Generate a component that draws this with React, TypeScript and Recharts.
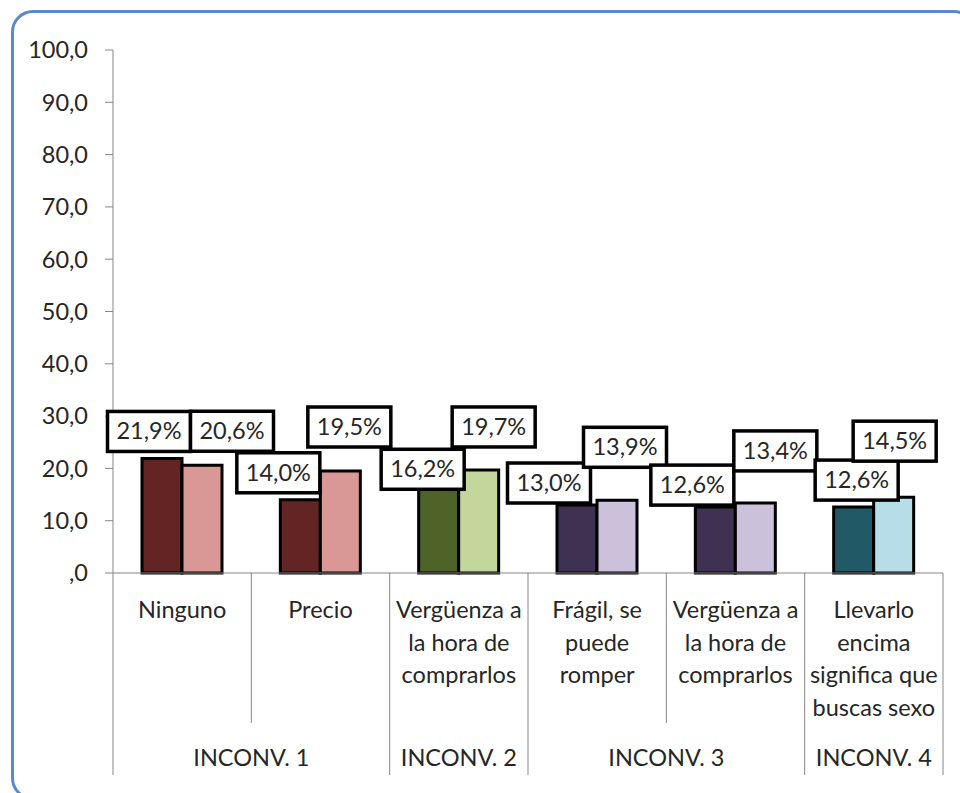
import React from "react";
import { BarChart, Bar, XAxis, YAxis, LabelList, Cell } from "recharts";

// category labels (first level) and group labels (second level)
const categories = [
  "Ninguno",
  "Precio",
  "Vergüenza a\nla hora de\ncomprarlos",
  "Frágil, se\npuede\nromper",
  "Vergüenza a\nla hora de\ncomprarlos",
  "Llevarlo\nencima\nsignifica que\nbuscas sexo",
];
const groups = ["INCONV. 1", "INCONV. 1", "INCONV. 2", "INCONV. 3", "INCONV. 3", "INCONV. 4"];

const serieA = [21.9, 14.0, 16.2, 13.0, 12.6, 12.6];
const serieB = [20.6, 19.5, 19.7, 13.9, 13.4, 14.5];

const yTicks = [0, 10, 20, 30, 40, 50, 60, 70, 80, 90, 100];

// colours per group
const darkColors = ["#632523", "#632523", "#4F6228", "#3F3151", "#3F3151", "#215967"];
const lightColors = ["#D99795", "#D99795", "#C3D69B", "#CCC1DA", "#CCC1DA", "#B7DEE8"];

// hand-moved label boxes (offset of box centre from bar top centre)
const offsetsA = [[-13, -27], [-22, -27], [-16, -19], [-28, -22], [-23, -22], [3, -27]];
const offsetsB = [[30, -34], [9, -44], [15, -43], [8, -53], [20, -52], [1, -56]];

const data = categories.map((c, i) => ({ name: c, a: serieA[i], b: serieB[i] }));

const FONT = "Lato, 'Open Sans', sans-serif";
const FS = 23.5;
const INK = "#262626";
const AXIS = "#868686";
const BAND = 830 / categories.length;
const BAR = 40;

const fmt = (v: number) => v.toFixed(1).replace(".", ",") + "%";

const Box = ({ cx, cy, text }: { cx: number; cy: number; text: string }) => (
  <g>
    <rect x={cx - 41.5} y={cy - 20} width={83} height={40} fill="#fff" stroke="#000" strokeWidth={3.5} />
    <text x={cx} y={cy + 8} textAnchor="middle" fontFamily={FONT} fontSize={FS} fill={INK}>
      {text}
    </text>
  </g>
);

// both labels drawn from the second series so they sit above both bars
const PairLabel = (props: any) => {
  const { x, y, width, height, value, index } = props;
  const base = y + height; // zero line
  const perUnit = height / value;
  const a = serieA[index];
  const [adx, ady] = offsetsA[index];
  const [bdx, bdy] = offsetsB[index];
  const aTop = base - a * perUnit;
  return (
    <g>
      <Box cx={x - BAR / 2 + adx} cy={aTop + ady} text={fmt(a)} />
      <Box cx={x + width / 2 + bdx} cy={y + bdy} text={fmt(value)} />
    </g>
  );
};

const CategoryTick = (props: any) => {
  const { x, y, payload } = props;
  const i = payload.index;
  const left = x - BAND / 2;
  const right = x + BAND / 2;
  const lines = categories[i].split("\n");
  const firstOfGroup = i === 0 || groups[i] !== groups[i - 1];
  let span = 1;
  while (i + span < groups.length && groups[i + span] === groups[i]) span++;
  const isLast = i === categories.length - 1;
  return (
    <g>
      <line x1={left} y1={y} x2={left} y2={firstOfGroup ? y + 202 : y + 150} stroke={AXIS} strokeWidth={1} />
      {isLast && <line x1={right} y1={y} x2={right} y2={y + 202} stroke={AXIS} strokeWidth={1} />}
      {lines.map((l, k) => (
        <text key={k} x={x} y={y + 45 + k * 32.5} textAnchor="middle" fontFamily={FONT} fontSize={FS} fill={INK}>
          {l}
        </text>
      ))}
      {firstOfGroup && (
        <text x={left + (span * BAND) / 2} y={y + 193} textAnchor="middle" fontFamily={FONT} fontSize={FS} fill={INK}>
          {groups[i]}
        </text>
      )}
    </g>
  );
};

export default function App() {
  return (
    <div style={{ position: "absolute", left: 0, top: 0, width: 960, height: 793, background: "#fff", overflow: "hidden" }}>
      <div
        style={{
          position: "absolute",
          left: 11,
          top: 10,
          width: 965,
          height: 790,
          border: "3px solid #5B8AC6",
          borderRadius: 22,
          boxSizing: "border-box",
        }}
      />
      <div style={{ position: "absolute", left: 0, top: 0 }}>
        <BarChart
          width={960}
          height={793}
          data={data}
          margin={{ top: 50, right: 17, bottom: 20, left: 53 }}
          barGap={0}
          barSize={BAR}
        >
          <XAxis
            dataKey="name"
            interval={0}
            height={200}
            tickSize={0}
            tickMargin={0}
            tickLine={false}
            axisLine={{ stroke: AXIS }}
            tick={<CategoryTick />}
          />
          <YAxis
            width={60}
            domain={[0, 100]}
            ticks={yTicks}
            interval={0}
            tickSize={8}
            tickMargin={17}
            axisLine={{ stroke: AXIS }}
            tickLine={{ stroke: AXIS }}
            tick={{ fontFamily: FONT, fontSize: FS, fill: INK }}
            tickFormatter={(v: number) => (v === 0 ? ",0" : v.toFixed(1).replace(".", ","))}
          />
          <Bar dataKey="a" stroke="#000" strokeWidth={3} isAnimationActive={false}>
            {data.map((_, i) => (
              <Cell key={i} fill={darkColors[i]} />
            ))}
          </Bar>
          <Bar dataKey="b" stroke="#000" strokeWidth={3} isAnimationActive={false}>
            {data.map((_, i) => (
              <Cell key={i} fill={lightColors[i]} />
            ))}
            <LabelList dataKey="b" content={PairLabel} />
          </Bar>
        </BarChart>
      </div>
    </div>
  );
}
